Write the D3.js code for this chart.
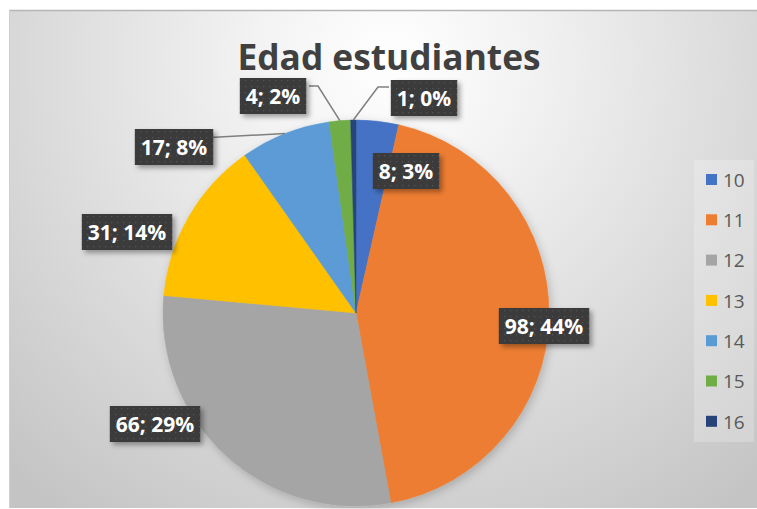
<!DOCTYPE html>
<html>
<head>
<meta charset="utf-8">
<script src="https://cdn.jsdelivr.net/npm/d3@7"></script>
<style>
  body { margin: 0; background: #fff; }
  svg { display: block; }
</style>
</head>
<body>
<div id="chart"></div>
<script>
// data
var ages = ["10", "11", "12", "13", "14", "15", "16"];
var counts = [8, 98, 66, 31, 17, 4, 1];
var pctLabels = ["3%", "44%", "29%", "14%", "8%", "2%", "0%"];
var colors = ["#4472C4", "#ED7D31", "#A5A5A5", "#FFC000", "#5B9BD5", "#70AD47", "#264478"];

// label box centres (layout only, Excel "best fit")
var labelPos = [[406, 171], [544, 326], [155, 424], [127, 232], [174, 147], [273, 96], [424, 98]];
// labels that need a leader line: index -> elbow point
var leaders = { 4: null, 5: [318, 86], 6: [378, 87] };

var width = 757, height = 509;
var cx = 356, cy = 313, radius = 193;

var svg = d3.select("#chart").append("svg")
    .attr("width", width)
    .attr("height", height);

var defs = svg.append("defs");

// chart area background
var bg = defs.append("radialGradient")
    .attr("id", "bg")
    .attr("gradientUnits", "userSpaceOnUse")
    .attr("cx", 390).attr("cy", 60).attr("r", 560);
bg.append("stop").attr("offset", "0%").attr("stop-color", "#ffffff");
bg.append("stop").attr("offset", "25%").attr("stop-color", "#f2f2f2");
bg.append("stop").attr("offset", "100%").attr("stop-color", "#c4c4c4");

var dots = defs.append("pattern")
    .attr("id", "dots")
    .attr("width", 6).attr("height", 6)
    .attr("patternUnits", "userSpaceOnUse");
dots.append("rect").attr("width", 6).attr("height", 6).attr("fill", "#3b3b3b");
dots.append("rect").attr("x", 2).attr("y", 2).attr("width", 1.2).attr("height", 1.2).attr("fill", "#555");

var shadow = defs.append("filter").attr("id", "shadow")
    .attr("x", "-20%").attr("y", "-20%").attr("width", "150%").attr("height", "160%");
shadow.append("feDropShadow")
    .attr("dx", 3).attr("dy", 3).attr("stdDeviation", 2.5)
    .attr("flood-color", "#000").attr("flood-opacity", 0.35);

var pieShadow = defs.append("filter").attr("id", "pieShadow")
    .attr("x", "-20%").attr("y", "-20%").attr("width", "140%").attr("height", "140%");
pieShadow.append("feDropShadow")
    .attr("dx", 2).attr("dy", 3).attr("stdDeviation", 5)
    .attr("flood-color", "#000").attr("flood-opacity", 0.2);

svg.append("rect")
    .attr("x", 9).attr("y", 10)
    .attr("width", width - 9).attr("height", 498)
    .attr("fill", "url(#bg)");
svg.append("line")
    .attr("x1", 9).attr("x2", width).attr("y1", 10.5).attr("y2", 10.5)
    .attr("stroke", "#b5b5b5").attr("stroke-width", 1.5);
svg.append("line")
    .attr("x1", 9.5).attr("x2", 9.5).attr("y1", 10).attr("y2", 508)
    .attr("stroke", "#d0d0d0").attr("stroke-width", 1);

// title
svg.append("text")
    .attr("x", 389).attr("y", 70)
    .attr("text-anchor", "middle")
    .attr("textLength", 303)
    .attr("lengthAdjust", "spacingAndGlyphs")
    .style("font-family", "'Open Sans', sans-serif")
    .style("font-weight", "bold")
    .style("font-size", "36px")
    .attr("fill", "#404040")
    .text("Edad estudiantes");

// pie
var pie = d3.pie().sort(null).value(d => d);
var arcs = pie(counts);
var arc = d3.arc().innerRadius(0).outerRadius(radius);

var pieGroup = svg.append("g")
    .attr("transform", `translate(${cx}, ${cy})`)
    .attr("filter", "url(#pieShadow)");

pieGroup.selectAll("path")
    .data(arcs)
    .enter()
    .append("path")
    .attr("d", arc)
    .attr("fill", (d, i) => colors[i])
    .attr("stroke", (d, i) => colors[i])
    .attr("stroke-width", 0.5);

// leader lines
arcs.forEach(function(d, i) {
    if (!(i in leaders)) return;
    var mid = (d.startAngle + d.endAngle) / 2;
    var ex = cx + radius * Math.sin(mid);
    var ey = cy - radius * Math.cos(mid);
    var p = labelPos[i];
    var boxEdge = ex > p[0] ? p[0] + 36 : p[0] - 35;
    var pts = [[boxEdge, leaders[i] ? leaders[i][1] : ey + 4]];
    if (leaders[i]) pts.push(leaders[i]);
    pts.push([ex, ey]);
    svg.append("path")
        .attr("d", d3.line()(pts))
        .attr("fill", "none")
        .attr("stroke", "#7f7f7f")
        .attr("stroke-width", 1.5);
});

// data labels
var labels = svg.append("g").selectAll("g")
    .data(arcs)
    .enter()
    .append("g")
    .attr("transform", (d, i) => `translate(${labelPos[i][0]}, ${labelPos[i][1]})`);

labels.append("text")
    .attr("class", "lbl")
    .attr("text-anchor", "middle")
    .attr("dy", "0.36em")
    .style("font-family", "'Open Sans', sans-serif")
    .style("font-weight", "bold")
    .style("font-size", "21px")
    .attr("fill", "#ffffff")
    .text((d, i) => counts[i] + "; " + pctLabels[i]);

labels.each(function() {
    var g = d3.select(this);
    var bb = g.select("text").node().getBBox();
    g.insert("rect", "text")
        .attr("x", bb.x - 6).attr("y", -18)
        .attr("width", bb.width + 12).attr("height", 36)
        .attr("fill", "url(#dots)")
        .attr("filter", "url(#shadow)");
});

// legend
var legend = svg.append("g");
legend.append("rect")
    .attr("x", 694).attr("y", 160)
    .attr("width", 60).attr("height", 282)
    .attr("fill", "#ffffff").attr("fill-opacity", 0.22);

var items = legend.selectAll("g.item")
    .data(ages)
    .enter()
    .append("g")
    .attr("class", "item")
    .attr("transform", (d, i) => `translate(706, ${180 + i * 40.3})`);

items.append("rect")
    .attr("x", 0).attr("y", -6)
    .attr("width", 11).attr("height", 11)
    .attr("fill", (d, i) => colors[i]);

items.append("text")
    .attr("x", 17).attr("y", 0)
    .attr("dy", "0.36em")
    .style("font-family", "'Open Sans', sans-serif")
    .style("font-size", "19px")
    .attr("fill", "#595959")
    .text(d => d);
</script>
</body>
</html>
